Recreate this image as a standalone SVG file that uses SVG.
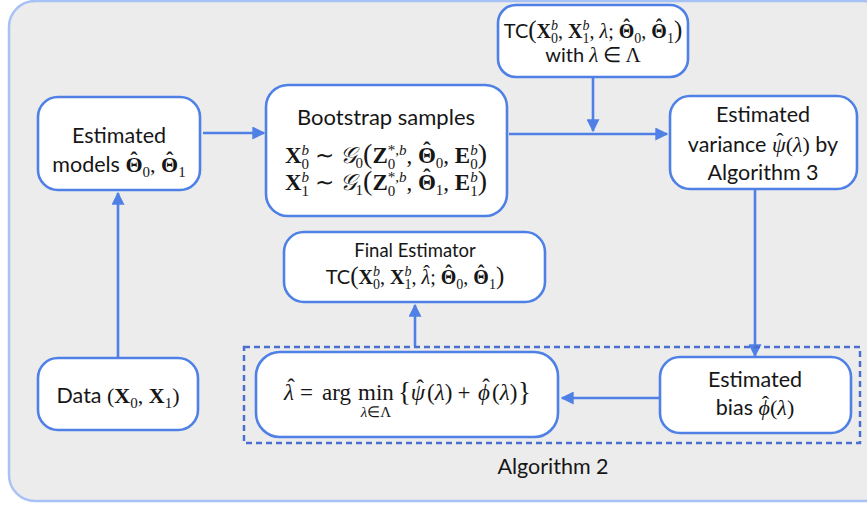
<svg xmlns="http://www.w3.org/2000/svg" width="867" height="506" viewBox="0 0 867 506">
<defs>
<style>
.node{fill:#ffffff;stroke:#4f80e6;stroke-width:2.6}
.s{font-family:Lato,"Open Sans",sans-serif;font-size:21.5px;fill:#161616}
.m{font-family:"Liberation Serif","Times New Roman",serif;fill:#161616}
.b{font-weight:bold}
.i{font-style:italic}
.con{stroke:#4f80e6;stroke-width:2.6;fill:none}
</style>
<marker id="ah" viewBox="0 0 10 10" refX="9" refY="5" markerWidth="5" markerHeight="5" orient="auto" markerUnits="strokeWidth">
<path d="M0,0 L10,5 L0,10 z" fill="#4f80e6"/>
</marker>
</defs>
<rect x="9" y="1" width="880" height="500" rx="26" fill="#ececec" stroke="#a9c2f6" stroke-width="2.5"/>

<g id="connectors">
<line class="con" x1="118" y1="357" x2="118" y2="193" marker-end="url(#ah)"/>
<line class="con" x1="203" y1="133" x2="264" y2="133" marker-end="url(#ah)"/>
<line class="con" x1="509" y1="134" x2="667" y2="134" marker-end="url(#ah)"/>
<line class="con" x1="593" y1="77" x2="593" y2="131" marker-end="url(#ah)"/>
<line class="con" x1="755" y1="189" x2="755" y2="356" marker-end="url(#ah)"/>
<line class="con" x1="659" y1="398" x2="562" y2="398" marker-end="url(#ah)"/>
<line class="con" x1="415" y1="346" x2="415" y2="305" marker-end="url(#ah)"/>
</g>

<g id="algorithm2">
<rect x="244" y="347" width="616" height="96" fill="none" stroke="#4a6fce" stroke-width="2.5" stroke-dasharray="6,4"/>
<text class="s" x="553" y="474" text-anchor="middle">Algorithm 2</text>
</g>

<g id="tc-top">
<rect class="node" x="498" y="5" width="190" height="72" rx="18"/>
<text class="s" x="593" y="38" text-anchor="middle" style="font-size:20px">TC<tspan class="m" style="font-size:25px">(</tspan><tspan class="m b" style="font-size:20px">X</tspan><tspan class="m i" style="font-size:14px" baseline-shift="8">b</tspan><tspan class="m" style="font-size:14px" dx="-7" baseline-shift="-5">0</tspan><tspan class="m" style="font-size:20px">, </tspan><tspan class="m b" style="font-size:20px">X</tspan><tspan class="m i" style="font-size:14px" baseline-shift="8">b</tspan><tspan class="m" style="font-size:14px" dx="-7" baseline-shift="-5">1</tspan><tspan class="m" style="font-size:20px">, </tspan><tspan class="m i" style="font-size:20px">λ</tspan><tspan class="m" style="font-size:20px">; </tspan><tspan class="m b" style="font-size:20px">Θ</tspan><tspan class="m b" style="font-size:20px" dx="-11.1" baseline-shift="4.5">ˆ</tspan><tspan class="m" style="font-size:14px" dx="4.45" baseline-shift="-5">0</tspan><tspan class="m" style="font-size:20px">, </tspan><tspan class="m b" style="font-size:20px">Θ</tspan><tspan class="m b" style="font-size:20px" dx="-11.1" baseline-shift="4.5">ˆ</tspan><tspan class="m" style="font-size:14px" dx="4.45" baseline-shift="-5">1</tspan><tspan class="m" style="font-size:25px">)</tspan></text>
<text class="s" x="593" y="62" text-anchor="middle" style="font-size:20px">with <tspan class="m i" style="font-size:21px">λ</tspan> <tspan class="m" style="font-size:21px">∈ Λ</tspan></text>
</g>

<g id="models">
<rect class="node" x="38" y="97" width="162" height="93" rx="20"/>
<text class="s" x="119" y="143" text-anchor="middle">Estimated</text>
<text class="s" x="119" y="172" text-anchor="middle">models <tspan class="m b" style="font-size:22px">Θ</tspan><tspan class="m b" style="font-size:22px" dx="-12.2" baseline-shift="5">ˆ</tspan><tspan class="m" style="font-size:15px" dx="4.9" baseline-shift="-5">0</tspan><tspan class="m" style="font-size:22px">, </tspan><tspan class="m b" style="font-size:22px">Θ</tspan><tspan class="m b" style="font-size:22px" dx="-12.2" baseline-shift="5">ˆ</tspan><tspan class="m" style="font-size:15px" dx="4.9" baseline-shift="-5">1</tspan></text>
</g>

<g id="bootstrap">
<rect class="node" x="266" y="85" width="241" height="131" rx="22"/>
<text class="s" x="386" y="125" text-anchor="middle" style="font-size:22px">Bootstrap samples</text>
<text class="m" x="386" y="163" text-anchor="middle" style="font-size:23px"><tspan class="b">X</tspan><tspan class="i" style="font-size:15px" baseline-shift="8">b</tspan><tspan style="font-size:15px" dx="-7.5" baseline-shift="-6">0</tspan> ∼ <tspan class="i">𝒢</tspan><tspan style="font-size:15px" baseline-shift="-5">0</tspan><tspan style="font-size:28px">(</tspan><tspan class="b">Z</tspan><tspan style="font-size:15px" baseline-shift="8">*,<tspan class="i">b</tspan></tspan><tspan style="font-size:15px" dx="-18.75" baseline-shift="-6">0</tspan><tspan dx="11.25">, </tspan><tspan class="b">Θ</tspan><tspan class="b" dx="-12.8" baseline-shift="5">ˆ</tspan><tspan style="font-size:15px" dx="5.1" baseline-shift="-5">0</tspan>, <tspan class="b">E</tspan><tspan class="i" style="font-size:15px" baseline-shift="8">b</tspan><tspan style="font-size:15px" dx="-7.5" baseline-shift="-6">0</tspan><tspan style="font-size:28px">)</tspan></text>
<text class="m" x="386" y="190" text-anchor="middle" style="font-size:23px"><tspan class="b">X</tspan><tspan class="i" style="font-size:15px" baseline-shift="8">b</tspan><tspan style="font-size:15px" dx="-7.5" baseline-shift="-6">1</tspan> ∼ <tspan class="i">𝒢</tspan><tspan style="font-size:15px" baseline-shift="-5">1</tspan><tspan style="font-size:28px">(</tspan><tspan class="b">Z</tspan><tspan style="font-size:15px" baseline-shift="8">*,<tspan class="i">b</tspan></tspan><tspan style="font-size:15px" dx="-18.75" baseline-shift="-6">0</tspan><tspan dx="11.25">, </tspan><tspan class="b">Θ</tspan><tspan class="b" dx="-12.8" baseline-shift="5">ˆ</tspan><tspan style="font-size:15px" dx="5.1" baseline-shift="-5">1</tspan>, <tspan class="b">E</tspan><tspan class="i" style="font-size:15px" baseline-shift="8">b</tspan><tspan style="font-size:15px" dx="-7.5" baseline-shift="-6">1</tspan><tspan style="font-size:28px">)</tspan></text>
</g>

<g id="variance">
<rect class="node" x="670" y="96" width="187" height="93" rx="20"/>
<text class="s" x="763" y="122" text-anchor="middle">Estimated</text>
<text class="s" x="763" y="152" text-anchor="middle">variance <tspan class="m i" style="font-size:22px">ψ</tspan><tspan class="m" style="font-size:22px" dx="-9.3" baseline-shift="4">ˆ</tspan><tspan class="m" style="font-size:22px" dx="2">(</tspan><tspan class="m i" style="font-size:22px">λ</tspan><tspan class="m" style="font-size:22px">)</tspan> by</text>
<text class="s" x="763" y="180" text-anchor="middle">Algorithm 3</text>
</g>

<g id="final">
<rect class="node" x="284" y="232" width="261" height="70" rx="20"/>
<text class="s" x="415" y="257" text-anchor="middle" style="font-size:18.5px">Final Estimator</text>
<text class="s" x="415" y="284" text-anchor="middle" style="font-size:20px">TC<tspan class="m" style="font-size:25px">(</tspan><tspan class="m b" style="font-size:20px">X</tspan><tspan class="m i" style="font-size:14px" baseline-shift="8">b</tspan><tspan class="m" style="font-size:14px" dx="-7" baseline-shift="-5">0</tspan><tspan class="m" style="font-size:20px">, </tspan><tspan class="m b" style="font-size:20px">X</tspan><tspan class="m i" style="font-size:14px" baseline-shift="8">b</tspan><tspan class="m" style="font-size:14px" dx="-7" baseline-shift="-5">1</tspan><tspan class="m" style="font-size:20px">, </tspan><tspan class="m i" style="font-size:20px">λ</tspan><tspan class="m" style="font-size:20px" dx="-6.8" baseline-shift="4">ˆ</tspan><tspan class="m" style="font-size:20px" dx="0.2">; </tspan><tspan class="m b" style="font-size:20px">Θ</tspan><tspan class="m b" style="font-size:20px" dx="-11.1" baseline-shift="4.5">ˆ</tspan><tspan class="m" style="font-size:14px" dx="4.45" baseline-shift="-5">0</tspan><tspan class="m" style="font-size:20px">, </tspan><tspan class="m b" style="font-size:20px">Θ</tspan><tspan class="m b" style="font-size:20px" dx="-11.1" baseline-shift="4.5">ˆ</tspan><tspan class="m" style="font-size:14px" dx="4.45" baseline-shift="-5">1</tspan><tspan class="m" style="font-size:25px">)</tspan></text>
</g>

<g id="lambda">
<rect class="node" x="256" y="352" width="302" height="85" rx="24"/>
<g class="m" style="font-size:23px">
<text class="m i" x="289" y="400" text-anchor="middle">λ</text>
<text class="m" x="291" y="395" text-anchor="middle">ˆ</text>
<text class="m" x="300" y="400">=</text>
<text class="m" x="322" y="400">arg</text>
<text class="m" x="358" y="400">min</text>
<text class="m i" x="376" y="417" text-anchor="middle" style="font-size:15px">λ<tspan font-style="normal">∈Λ</tspan></text>
<text class="m" x="398" y="401" style="font-size:27px">{</text>
<text class="m i" x="418" y="400" text-anchor="middle">ψ</text>
<text class="m" x="420" y="396" text-anchor="middle">ˆ</text>
<text class="m" x="427" y="400">(<tspan class="i">λ</tspan>)</text>
<text class="m" x="464" y="400" text-anchor="middle">+</text>
<text class="m i" x="484" y="400" text-anchor="middle">ϕ</text>
<text class="m" x="486" y="395" text-anchor="middle">ˆ</text>
<text class="m" x="492" y="400">(<tspan class="i">λ</tspan>)</text>
<text class="m" x="518" y="401" style="font-size:27px">}</text>
</g>
</g>

<g id="bias">
<rect class="node" x="660" y="357" width="191" height="76" rx="20"/>
<text class="s" x="755" y="387" text-anchor="middle">Estimated</text>
<text class="s" x="755" y="415" text-anchor="middle">bias <tspan class="m i" style="font-size:22px">ϕ</tspan><tspan class="m" style="font-size:22px" dx="-8.2" baseline-shift="4">ˆ</tspan><tspan class="m" style="font-size:22px" dx="1">(</tspan><tspan class="m i" style="font-size:22px">λ</tspan><tspan class="m" style="font-size:22px">)</tspan></text>
</g>

<g id="data">
<rect class="node" x="38" y="358" width="160" height="72" rx="20"/>
<text class="s" x="118" y="403" text-anchor="middle">Data <tspan class="m" style="font-size:22px">(</tspan><tspan class="m b" style="font-size:22px">X</tspan><tspan class="m" style="font-size:15px" baseline-shift="-5">0</tspan><tspan class="m" style="font-size:22px">, </tspan><tspan class="m b" style="font-size:22px">X</tspan><tspan class="m" style="font-size:15px" baseline-shift="-5">1</tspan><tspan class="m" style="font-size:22px">)</tspan></text>
</g>
</svg>
